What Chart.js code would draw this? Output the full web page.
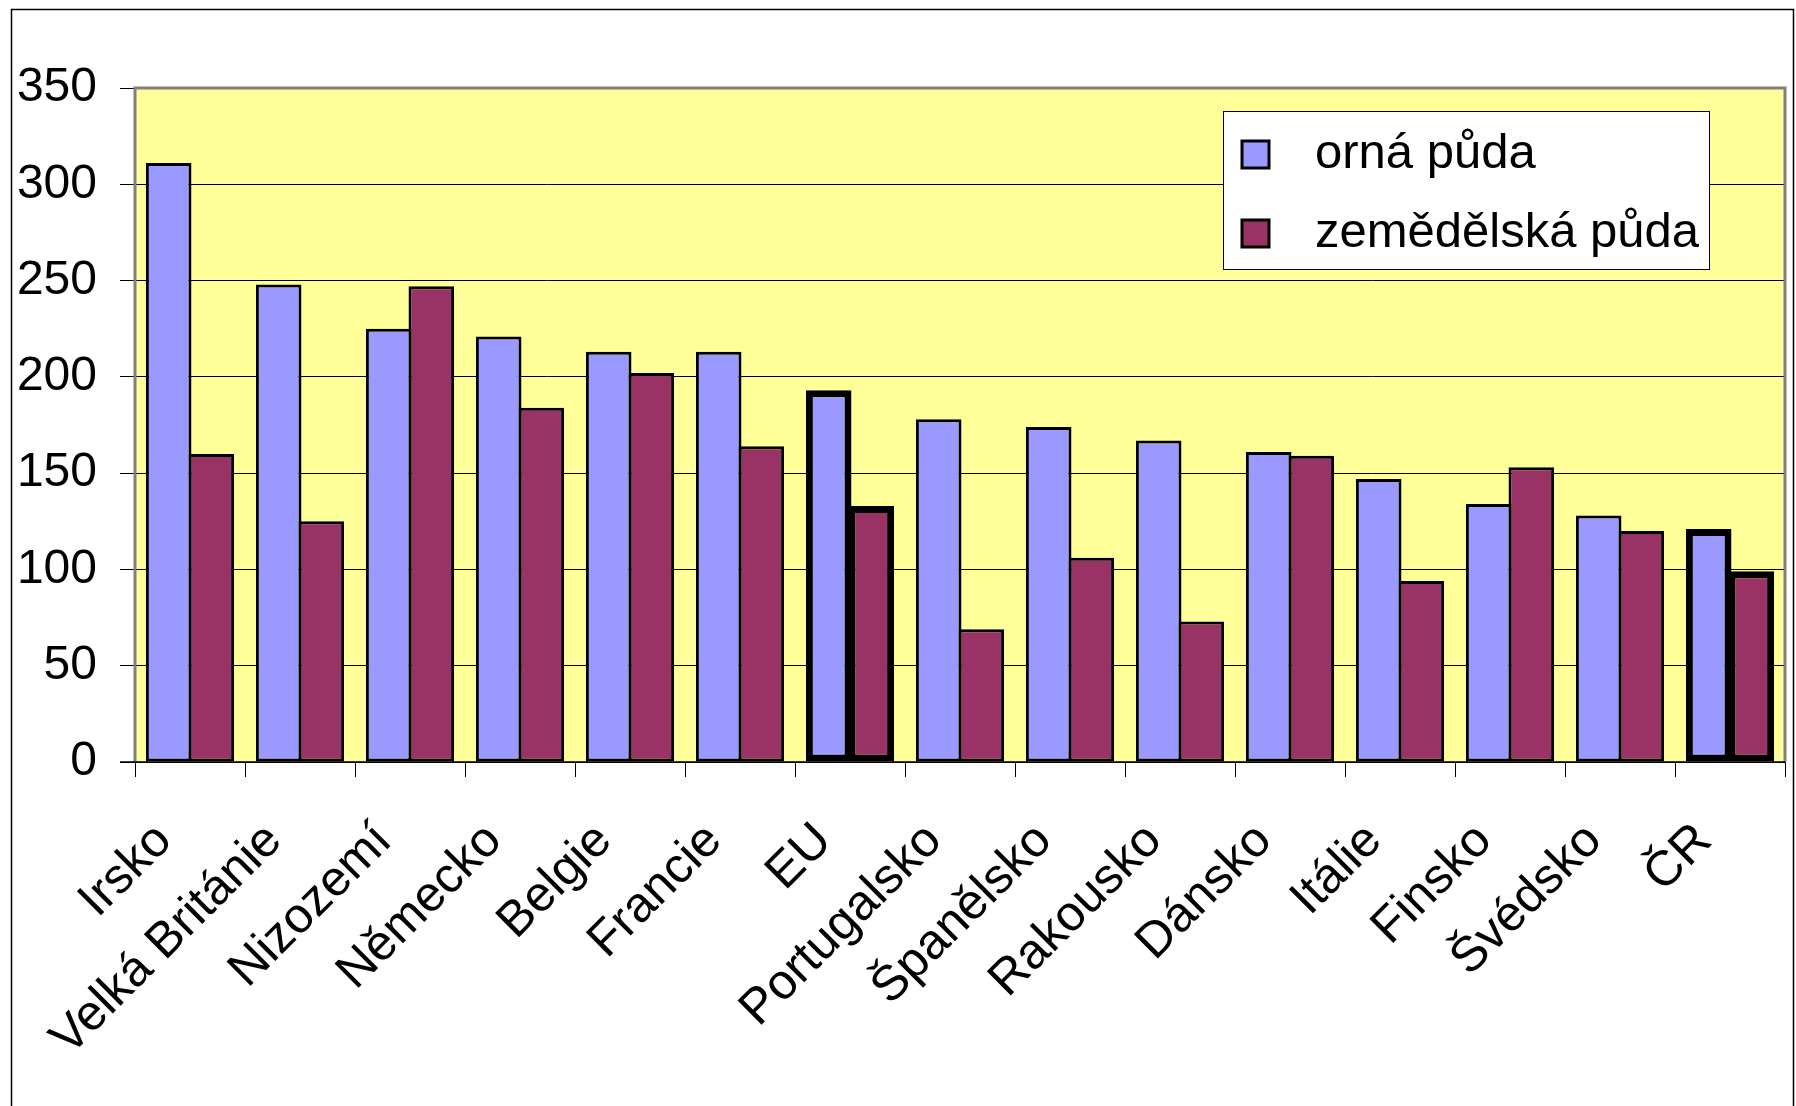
<!DOCTYPE html>
<html lang="cs">
<head>
<meta charset="utf-8">
<title>Orná a zemědělská půda</title>
<script src="https://cdn.jsdelivr.net/npm/chart.js@4/dist/chart.umd.min.js"></script>
<style>
  html, body { margin: 0; padding: 0; background: #ffffff; }
  canvas { display: block; }
</style>
</head>
<body>
<canvas id="landChart" width="1796" height="1106"></canvas>
<script>
/* ── Data ─────────────────────────────────────────────────────────────── */
const countries = [
  "Irsko", "Velká Británie", "Nizozemí", "Německo", "Belgie", "Francie", "EU",
  "Portugalsko", "Španělsko", "Rakousko", "Dánsko", "Itálie", "Finsko", "Švédsko", "ČR"
];
const ornaPuda       = [311, 248, 225, 221, 213, 213, 193, 178, 174, 167, 161, 147, 134, 128, 121];
const zemedelskaPuda = [160, 125, 247, 184, 202, 164, 133, 69, 106, 73, 159, 94, 153, 120, 99];
const yTicks = [0, 50, 100, 150, 200, 250, 300, 350];
const seriesNames = ["orná půda", "zemědělská půda"];
const seriesColors = ["#9999ff", "#993366"];
const highlighted = ["EU", "ČR"];   // drawn with a heavy outline

const FONT = '"Liberation Sans", Arial, sans-serif';

/* ── Plugins ──────────────────────────────────────────────────────────── */
const plotFrame = {
  id: "plotFrame",
  beforeDraw(chart) {
    const { ctx, chartArea: a } = chart;
    ctx.save();
    ctx.fillStyle = "#ffff99";
    ctx.fillRect(a.left, a.top, a.right - a.left, a.bottom - a.top);
    ctx.restore();
  },
  beforeDatasetsDraw(chart) {
    const { ctx, chartArea: a } = chart;
    ctx.save();
    ctx.strokeStyle = "#808080";
    ctx.lineWidth = 3;
    ctx.beginPath();
    ctx.moveTo(a.left, a.bottom);
    ctx.lineTo(a.left, a.top);
    ctx.lineTo(a.right, a.top);
    ctx.lineTo(a.right, a.bottom);
    ctx.stroke();
    ctx.strokeStyle = "#000000";
    ctx.lineWidth = 1.5;
    ctx.beginPath();
    ctx.moveTo(a.left - 15, a.bottom);
    ctx.lineTo(a.right, a.bottom);
    ctx.stroke();
    ctx.restore();
  },
  afterDraw(chart) {
    // outer chart border (bottom edge lies outside the picture)
    const { ctx } = chart;
    ctx.save();
    ctx.strokeStyle = "#000000";
    ctx.lineWidth = 1.5;
    ctx.strokeRect(11.5, 9.5, 1782, 1120);
    ctx.restore();
  }
};

const legendBox = {
  id: "legendBox",
  afterDraw(chart) {
    const { ctx } = chart;
    const x = 1223, y = 111, w = 486, h = 158;
    ctx.save();
    ctx.fillStyle = "#ffffff";
    ctx.fillRect(x, y, w, h);
    ctx.strokeStyle = "#000000";
    ctx.lineWidth = 1;
    ctx.strokeRect(x + 0.5, y + 0.5, w, h);
    ctx.font = `49px ${FONT}`;
    ctx.textBaseline = "middle";
    chart.data.datasets.forEach((ds, i) => {
      const cy = 154 + i * 79;
      ctx.fillStyle = ds.backgroundColor;
      ctx.fillRect(1242, cy - 13, 27, 27);
      ctx.lineWidth = 3;
      ctx.strokeRect(1242, cy - 13, 27, 27);
      ctx.fillStyle = "#000000";
      ctx.fillText(ds.label, 1315, cy);
    });
    ctx.restore();
  }
};

/* ── Chart ────────────────────────────────────────────────────────────── */
const outline = (c) => (highlighted.includes(countries[c.dataIndex]) ? 7 : 3);

new Chart(document.getElementById("landChart"), {
  type: "bar",
  data: {
    labels: countries,
    datasets: [ornaPuda, zemedelskaPuda].map((data, i) => ({
      label: seriesNames[i],
      data,
      backgroundColor: seriesColors[i],
      borderColor: "#000000",
      borderWidth: outline,
      borderSkipped: false,
      categoryPercentage: 0.775,
      barPercentage: 1.07,
    }))
  },
  options: {
    responsive: false,
    animation: false,
    events: [],
    layout: { padding: { top: 88, right: 11, left: 0, bottom: 0 } },
    plugins: {
      legend: { display: false },
      tooltip: { enabled: false },
    },
    scales: {
      x: {
        afterFit: (s) => {
          s.height = 344;
          // rotated labels must not shrink the plot area
          s.paddingLeft = 0;
          s.paddingRight = 0;
        },
        grid: {
          drawOnChartArea: false,
          drawTicks: true,
          tickLength: 15,
          color: "#000000",
          offset: true,
        },
        border: { display: false },
        ticks: {
          autoSkip: false,
          minRotation: 45,
          maxRotation: 45,
          padding: 35,
          labelOffset: -26,
          color: "#000000",
          font: { family: FONT, size: 49.5 },
        }
      },
      y: {
        min: 0,
        max: 350,
        afterFit: (s) => { s.width = 135; },
        afterBuildTicks: (s) => { s.ticks = yTicks.map((v) => ({ value: v })); },
        grid: {
          color: "#000000",
          lineWidth: 1,
          tickLength: 15,
        },
        border: { display: false },
        ticks: {
          padding: 23,
          color: "#000000",
          font: { family: FONT, size: 48 },
        }
      }
    }
  },
  plugins: [plotFrame, legendBox]
});
</script>
</body>
</html>
